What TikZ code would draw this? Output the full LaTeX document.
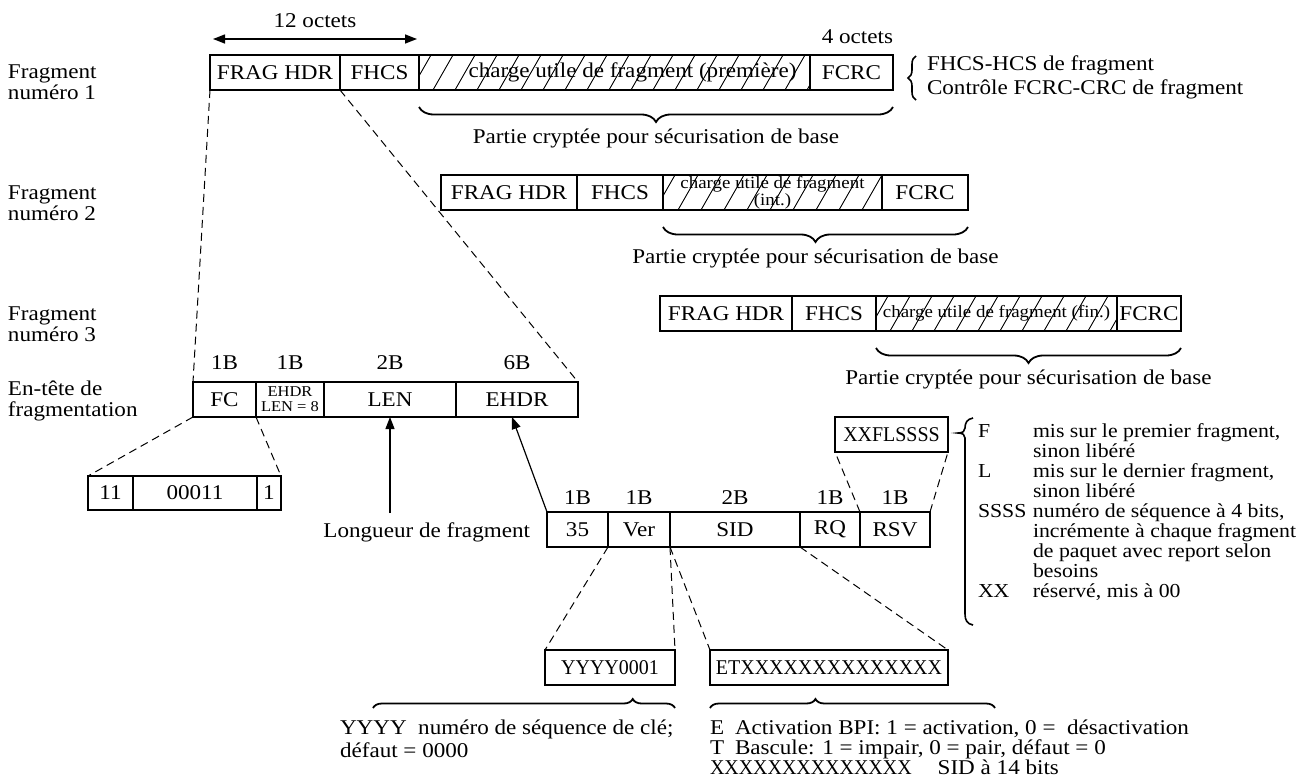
\documentclass[tikz,border=0pt]{standalone}
\usepackage{fontspec}
\setmainfont{Liberation Serif}[FakeStretch=1.1]
\newfontfamily\narrowfont{Liberation Serif}[FakeStretch=0.95]
\usetikzlibrary{arrows.meta,decorations.pathreplacing,calc}

% diagonal hatching of a payload field: node, spacing, start offset
\newcommand\hatchbox[3]{%
  \begin{scope}
    \clip (#1.south west) rectangle (#1.north east);
    \foreach \k in {0,...,30}
      \draw[hatch] ($(#1.south west)+(#3+\k*#2,0)$) -- ++(20,-35);
  \end{scope}}

\begin{document}
\begin{tikzpicture}[x=0.5pt,y=-0.5pt,
  every node/.style={inner sep=0pt,outer sep=0pt},
  txtn/.style={font=\fontsize{10.5}{10.5}\selectfont},
  txts/.style={font=\fontsize{8.6}{8.6}\selectfont},
  txtt/.style={font=\fontsize{7.5}{7.5}\selectfont},
  narrow/.style={font=\fontsize{10.5}{10.5}\selectfont\narrowfont},
  fld/.style={draw,line width=0.6pt,anchor=north west,minimum height=17.5pt,txtn},
  fw/.style={minimum width=#1*0.5pt},
  outline/.style={line width=1.2pt},
  hatch/.style={line width=0.45pt},
  zoomline/.style={line width=0.5pt,dash pattern=on 4pt off 2.5pt},
  ptr/.style={line width=0.6pt,-{Triangle[length=6pt,width=4.5pt]}},
  spanarrow/.style={line width=0.7pt,{Triangle[length=6pt,width=4.5pt]}-{Triangle[length=6pt,width=4.5pt]}},
  bracedn/.style={decorate,decoration={brace,mirror,amplitude=7.5pt},line width=0.9pt},
  braceup/.style={decorate,decoration={brace,amplitude=4.5pt,aspect=#1},line width=0.9pt},
  braceleft/.style={decorate,decoration={brace,amplitude=4pt},line width=0.8pt},
]
\useasboundingbox (0,0) rectangle (1302,782);

% ---------- fragment 1 ----------
\node[txtn,anchor=west,align=left] (lab1) at (8,82) {Fragment\\numéro 1};
\node[fld,fw=130] (hdr1) at (210,55) {FRAG HDR};
\node[fld,fw=79]  (hcs1) at (hdr1.north east) {FHCS};
\node[fld,fw=391] (pay1) at (hcs1.north east) {};
\node[fld,fw=83]  (crc1) at (pay1.north east) {FCRC};
\hatchbox{pay1}{22}{-8}
\node[txtn] (pay1t) at ($(pay1.center)+(18,0)$) {charge utile de fragment (première)};
\draw[outline] (hdr1.north west) rectangle (crc1.south east);

\coordinate (o12a) at (213,39);
\coordinate (o12b) at (417,39);
\draw[spanarrow] (o12a) -- (o12b);
\node[txtn] (o12) at (315,21) {12 octets};
\node[txtn,anchor=east] (o4) at (893,37) {4 octets};

\draw[bracedn] ($(pay1.south west)+(0,17)$) -- ($(crc1.south east)+(0,17)$);
\node[txtn] (enc1) at ($(pay1.south west)!0.5!(crc1.south east)+(0,48)$) {Partie cryptée pour sécurisation de base};

\draw[braceleft] (916,100) -- (916,56);
\node[anchor=west,align=left,font=\fontsize{10.5}{12}\selectfont] (leg1) at (927,77)
  {FHCS-HCS de fragment\\Contrôle FCRC-CRC de fragment};

% ---------- fragment 2 ----------
\node[txtn,anchor=west,align=left] (lab2) at (8,203) {Fragment\\numéro 2};
\node[fld,fw=136] (hdr2) at (441,175) {FRAG HDR};
\node[fld,fw=86]  (hcs2) at (hdr2.north east) {FHCS};
\node[fld,fw=219] (pay2) at (hcs2.north east) {};
\node[fld,fw=86]  (crc2) at (pay2.north east) {FCRC};
\hatchbox{pay2}{23}{-8}
\node[txts,align=center] (pay2t) at (pay2.center) {charge utile de fragment\\(int.)};
\draw[outline] (hdr2.north west) rectangle (crc2.south east);
\draw[bracedn] ($(pay2.south west)+(0,17)$) -- ($(crc2.south east)+(0,17)$);
\node[txtn] (enc2) at ($(pay2.south west)!0.5!(crc2.south east)+(0,48)$) {Partie cryptée pour sécurisation de base};

% ---------- fragment 3 ----------
\node[txtn,anchor=west,align=left] (lab3) at (8,324) {Fragment\\numéro 3};
\node[fld,fw=132] (hdr3) at (660,296) {FRAG HDR};
\node[fld,fw=84]  (hcs3) at (hdr3.north east) {FHCS};
\node[fld,fw=241] (pay3) at (hcs3.north east) {};
\node[fld,fw=64]  (crc3) at (pay3.north east) {FCRC};
\hatchbox{pay3}{22}{-8}
\node[txts] (pay3t) at (pay3.center) {charge utile de fragment (fin.)};
\draw[outline] (hdr3.north west) rectangle (crc3.south east);
\draw[bracedn] ($(pay3.south west)+(0,17)$) -- ($(crc3.south east)+(0,17)$);
\node[txtn] (enc3) at ($(pay3.south west)!0.5!(crc3.south east)+(0,48)$) {Partie cryptée pour sécurisation de base};

% ---------- fragmentation header ----------
\node[txtn,anchor=west,align=left] (lab4) at (8,401) {En-tête de\\fragmentation};
\node[fld,fw=63]  (fc)   at (193,382) {FC};
\node[fld,fw=68,txtt,align=center] (ehl) at (fc.north east) {EHDR\\LEN = 8};
\node[fld,fw=132] (len)  at (ehl.north east) {LEN};
\node[fld,fw=122] (ehdr) at (len.north east) {EHDR};
\draw[outline] (fc.north west) rectangle (ehdr.south east);
\foreach \n/\t in {fc/1B,ehl/1B,len/2B,ehdr/6B}
  \node[txtn] (sz-\n) at ($(\n.north)+(0,-19)$) {\t};
\draw[zoomline] (hdr1.south west) -- (fc.north west);
\draw[zoomline] (hdr1.south east) -- (ehdr.north east);

% FC bits
\node[fld,fw=45,minimum height=17pt]  (b11)    at (88,476) {11};
\node[fld,fw=124,minimum height=17pt] (b00011) at (b11.north east) {00011};
\node[fld,fw=24,minimum height=17pt]  (b1)     at (b00011.north east) {1};
\draw[outline] (b11.north west) rectangle (b1.south east);
\draw[zoomline] (fc.south west) -- (b11.north west);
\draw[zoomline] (fc.south east) -- (b1.north east);

% length pointer
\node[txtn,anchor=east] (lenlab) at (530,532) {Longueur de fragment};
\coordinate (lenfoot) at (390,513);
\draw[ptr] (lenfoot) -- (len.south);

% ---------- extended header ----------
\node[fld,fw=61]  (f35)  at (547,512) {35};
\node[fld,fw=62]  (fver) at (f35.north east) {Ver};
\node[fld,fw=130] (fsid) at (fver.north east) {SID};
\node[fld,fw=60]  (frq)  at (fsid.north east) {RQ};
\node[fld,fw=70]  (frsv) at (frq.north east) {RSV};
\draw[outline] (f35.north west) rectangle (frsv.south east);
\foreach \n/\t in {f35/1B,fver/1B,fsid/2B,frq/1B,frsv/1B}
  \node[txtn] (sz-\n) at ($(\n.north)+(0,-14)$) {\t};
\draw[ptr] (f35.north west) -- ($(ehdr.south)+(-5,0)$);

% RSV bits
\node[fld,fw=113,narrow] (xxfl) at (835,417) {XXFLSSSS};
\draw[outline] (xxfl.north west) rectangle (xxfl.south east);
\draw[zoomline] (frq.north east) -- (xxfl.south west);
\draw[zoomline] (frsv.north east) -- (xxfl.south east);

\draw[line width=0.8pt] (973,418) .. controls (967,419) and (965,423) .. (965,428)
  .. controls (965,431) and (963,433) .. (958,433)
  .. controls (963,433) and (965,435) .. (965,438)
  -- (965,614) .. controls (965,620) and (967,624) .. (973,625);
\node[anchor=west,font=\fontsize{9.9}{10}\selectfont] (legrsv) at (978,513) {%
  \begin{tabular}{@{}p{27.5pt}@{}l@{}}
  F & mis sur le premier fragment,\\
    & sinon libéré\\
  L & mis sur le dernier fragment,\\
    & sinon libéré\\
  SSSS & numéro de séquence à 4 bits,\\
    & incrémente à chaque fragment\\
    & de paquet avec report selon\\
    & besoins\\
  XX & réservé, mis à 00
  \end{tabular}};

% Ver and SID bits
\node[fld,fw=130,narrow] (yyyy) at (545,650) {YYYY0001};
\node[fld,fw=238,narrow] (etx)  at (710,650) {ETXXXXXXXXXXXXXX};
\draw[outline] (yyyy.north west) rectangle (yyyy.south east);
\draw[outline] (etx.north west) rectangle (etx.south east);
\draw[zoomline] (fver.south west) -- (yyyy.north west);
\draw[zoomline] (fver.south east) -- (yyyy.north east);
\draw[zoomline] (fsid.south west) -- (etx.north west);
\draw[zoomline] (fsid.south east) -- (etx.north east);

\coordinate (yb1) at (373,708);
\coordinate (yb2) at (675,708);
\draw[braceup=0.86] (yb1) -- (yb2);
\node[anchor=west,align=left,font=\fontsize{10.5}{11.5}\selectfont] (ytxt) at (340,739)
  {YYYY\ \ numéro de séquence de clé;\\défaut = 0000};

\coordinate (eb1) at (710,708);
\coordinate (eb2) at (995,708);
\draw[braceup=0.37] (eb1) -- (eb2);
\node[anchor=west,align=left,font=\fontsize{10.5}{10}\selectfont] (etxt) at (710,747)
  {\makebox[12.5pt][l]{E}Activation BPI: 1 = activation, 0 =\ \ désactivation\\
   \makebox[12.5pt][l]{T}Bascule: 1 = impair, 0 = pair, défaut = 0\\
   {\narrowfont XXXXXXXXXXXXXX}\hspace{13pt}SID à 14 bits};
\end{tikzpicture}
\end{document}
